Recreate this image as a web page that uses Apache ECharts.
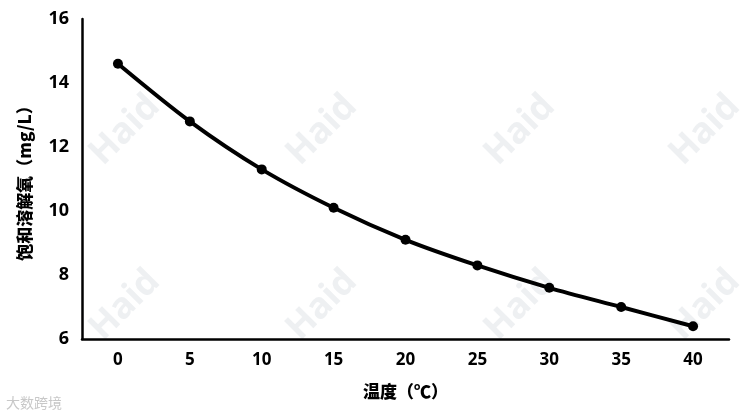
<!DOCTYPE html>
<html><head><meta charset="utf-8">
<script src="https://cdn.jsdelivr.net/npm/echarts@6/dist/echarts.min.js"></script>
<style>html,body{margin:0;padding:0;background:#fff}#c{width:745px;height:420px}</style>
</head><body><div id="c"></div>
<script>
const categories = ['0','5','10','15','20','25','30','35','40'];
const oxygen = [14.6, 12.8, 11.3, 10.1, 9.1, 8.3, 7.6, 7.0, 6.4];
const yTicks = [6, 8, 10, 12, 14, 16];

const font = '"Noto Sans","Noto Sans CJK SC",sans-serif';
const cjk = '"Noto Sans CJK SC",sans-serif';
const wm = [];
[[125,130],[322,130],[520,130],[705,130],[125,305],[322,305],[520,305],[705,305]].forEach(p=>{
  wm.push({type:'text', x:p[0], y:p[1], rotation:Math.PI/4, z:-1,
    style:{text:'Haid', fill:'rgba(205,212,218,0.35)', font:'bold 36px '+font, align:'center', verticalAlign:'middle'}});
});
wm.push({type:'text', left:6, top:396, style:{text:'大数跨境', fill:'#c8c8c8', font:'14px '+cjk}});

const chart = echarts.init(document.getElementById('c'));
chart.setOption({
  animation:false,
  graphic: wm,
  grid:{left:82, right:16, top:19, bottom:81, containLabel:false},
  xAxis:{type:'category', data:categories, boundaryGap:true,
    name:'温度（℃）', nameLocation:'middle', nameGap:44,
    nameTextStyle:{fontFamily:cjk, fontWeight:900, fontSize:17, color:'#000'},
    axisLine:{lineStyle:{color:'#000', width:2.5}}, axisTick:{show:false},
    axisLabel:{fontFamily:font, fontWeight:'bold', fontSize:17, color:'#000', margin:13}},
  yAxis:{type:'value', min:6, max:16, interval:2,
    name:'饱和溶解氧（mg/L）', nameLocation:'middle', nameGap:49,
    nameTextStyle:{fontFamily:cjk, fontWeight:900, fontSize:17, color:'#000'},
    axisLine:{show:true, lineStyle:{color:'#000', width:2.5}}, axisTick:{show:false},
    splitLine:{show:false},
    axisLabel:{fontFamily:font, fontWeight:'bold', fontSize:18, color:'#000', margin:13,
      formatter:v=> yTicks.includes(v) ? String(v) : ''}},
  series:[{type:'line', data:oxygen, smooth:0.3, symbol:'circle', symbolSize:10,
    lineStyle:{color:'#000', width:4}, itemStyle:{color:'#000'}}]
});
</script></body></html>
